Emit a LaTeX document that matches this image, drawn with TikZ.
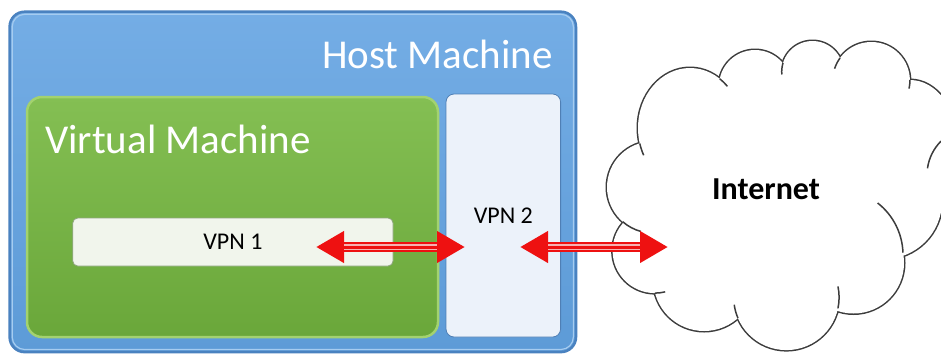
\documentclass[tikz,border=0pt]{standalone}
\usepackage{fontspec}
\setmainfont{Carlito}
\usetikzlibrary{arrows.meta}

\definecolor{hosttop}{HTML}{74ADE5}
\definecolor{hostbot}{HTML}{5D9BD7}
\definecolor{hostline}{HTML}{4A82C0}
\definecolor{hostlight}{HTML}{A6CCF0}
\definecolor{vmtop}{HTML}{84BF53}
\definecolor{vmbot}{HTML}{6AA73A}
\definecolor{vmline}{HTML}{A3D26F}
\definecolor{vpnonefill}{HTML}{F1F5EC}
\definecolor{vpnoneline}{HTML}{8EA57E}
\definecolor{vpntwofill}{HTML}{ECF2FA}
\definecolor{vpntwoline}{HTML}{4F7FB5}
\definecolor{arrowred}{HTML}{EE1111}
\definecolor{stripepink}{HTML}{F7B2B2}
\definecolor{cloudline}{HTML}{3C3C3C}

\tikzset{
  hostbox/.style={rounded corners=15pt, top color=hosttop, bottom color=hostbot,
    draw=hostline, line width=2.5pt, minimum width=566.4pt, minimum height=340.4pt,
    inner sep=0pt, outer sep=0pt},
  hostrim/.style={draw=hostlight, line width=1.2pt, rounded corners=12.5pt},
  vmbox/.style={rounded corners=15pt, top color=vmtop, bottom color=vmbot,
    draw=vmline, line width=2.5pt, minimum width=411pt, minimum height=240pt,
    inner sep=0pt, outer sep=0pt},
  vpnonebox/.style={rounded corners=5pt, fill=vpnonefill, draw=vpnoneline,
    line width=0.8pt, minimum width=320.3pt, minimum height=48pt, inner sep=0pt,
    font=\fontsize{24}{24}\selectfont},
  vpntwobox/.style={rounded corners=8pt, fill=vpntwofill, draw=vpntwoline,
    line width=0.8pt, minimum width=114.6pt, minimum height=243pt, inner sep=0pt,
    font=\fontsize{24}{24}\selectfont},
  boxtitle/.style={text=white, inner sep=0pt, font=\fontsize{41}{41}\selectfont},
  cloudtext/.style={inner sep=0pt, font=\fontsize{32}{32}\selectfont\bfseries},
  dblarrow/.style={draw=arrowred, line width=10pt,
    arrows={Triangle[length=28pt,width=30pt]-Triangle[length=28pt,width=30pt]}},
  shaftstripe/.style={draw=stripepink, line width=1.3pt,
    shorten <=28pt, shorten >=28pt},
  cloudhook/.style={draw=cloudline, line width=1.5pt},
}

% lobes of the cloud, each one issued with the given options
\newcommand\cloudlobes[1]{%
  \path[#1] (690,-128) ellipse [x radius=52, y radius=60];
  \path[#1] (755,-86) circle [radius=36];
  \path[#1] (812.5,-71.8) circle [radius=30.8];
  \path[#1] (871.3,-80.6) circle [radius=38.6];
  \path[#1] (910,-145) ellipse [x radius=48, y radius=65];
  \path[#1] (884,-201) circle [radius=58];
  \path[#1] (853.5,-263) circle [radius=50.5];
  \path[#1] (786.4,-297.4) circle [radius=52.7];
  \path[#1] (704.1,-280.3) circle [radius=50.7];
  \path[#1] (654.9,-250.8) circle [radius=42.3];
  \path[#1] (652.8,-187.2) circle [radius=45.8];
}

\begin{document}
\begin{tikzpicture}[x=1pt,y=1pt]
\useasboundingbox (0,0) rectangle (941,-354);
\fill[white] (0,0) rectangle (941,-354);

\begin{scope}
\clip (0,0) rectangle (941,-354);

% host machine frame
\node[hostbox] (host) at (292.8,-181.9) {};
\draw[hostrim] ([xshift=2.6pt,yshift=-2.6pt]host.north west)
  rectangle ([xshift=-2.6pt,yshift=2.6pt]host.south east);
\node[boxtitle, anchor=east] (hosttitle) at (553,-54) {Host Machine};

% virtual machine
\node[vmbox] (vm) at (232.5,-217) {};
\node[boxtitle, anchor=west] (vmtitle) at (45,-139) {Virtual Machine};

% the two VPN endpoints
\node[vpnonebox] (vpn1) at (232.9,-242) {VPN 1};
\node[vpntwobox] (vpn2) at (503.3,-215.5) {VPN 2};

% cloud: thick outlines first, then the lobe fills hide the inner halves
\cloudlobes{draw=cloudline, line width=3pt}
\cloudlobes{fill=white}
\fill[white] (690,-128) -- (755,-86) -- (812.5,-71.8) -- (871.3,-80.6)
  -- (910,-145) -- (884,-201) -- (853.5,-263) -- (786.4,-297.4)
  -- (704.1,-280.3) -- (654.9,-250.8) -- (652.8,-187.2) -- cycle;
% short inner strokes where the lobes meet
\draw[cloudhook] (690,-128) ++(195:52 and 60) arc[start angle=195, end angle=207, x radius=52, y radius=60];
\draw[cloudhook] (690,-128) ++(55:52 and 60) arc[start angle=55, end angle=44, x radius=52, y radius=60];
\draw[cloudhook] (812.5,-71.8) ++(163:30.8) arc[start angle=163, end angle=185, radius=30.8];
\draw[cloudhook] (871.3,-80.6) ++(144:38.6) arc[start angle=144, end angle=162, radius=38.6];
\draw[cloudhook] (871.3,-80.6) ++(1:38.6) arc[start angle=1, end angle=-12, radius=38.6];
\draw[cloudhook] (975,-175) ++(172:48) arc[start angle=172, end angle=135, radius=48];
\draw[cloudhook] (837,-255) ++(2:66) arc[start angle=2, end angle=52, radius=66];
\draw[cloudhook] (786.4,-297.4) ++(-12:52.7) arc[start angle=-12, end angle=12, radius=52.7];
\draw[cloudhook] (786.4,-297.4) ++(203:52.7) arc[start angle=203, end angle=188, radius=52.7];
\draw[cloudhook] (654.9,-250.8) ++(-90:42.3) arc[start angle=-90, end angle=-76, radius=42.3];
\draw[cloudhook] (652.8,-187.2) ++(-131:45.8) arc[start angle=-131, end angle=-105, radius=45.8];
\node[cloudtext] (internet) at (766,-189) {Internet};

% tunnel arrows
\coordinate (a1l) at (316,-247);
\coordinate (a1r) at (465,-247);
\coordinate (a2l) at (520,-247);
\coordinate (a2r) at (668,-247);
\draw[dblarrow] (a1l) -- (a1r);
\draw[dblarrow] (a2l) -- (a2r);
\foreach \s in {2,-2.2}{
  \draw[shaftstripe, transform canvas={yshift=\s pt}] (a1l) -- (a1r);
  \draw[shaftstripe, transform canvas={yshift=\s pt}] (a2l) -- (a2r);
}
\end{scope}
\end{tikzpicture}
\end{document}
